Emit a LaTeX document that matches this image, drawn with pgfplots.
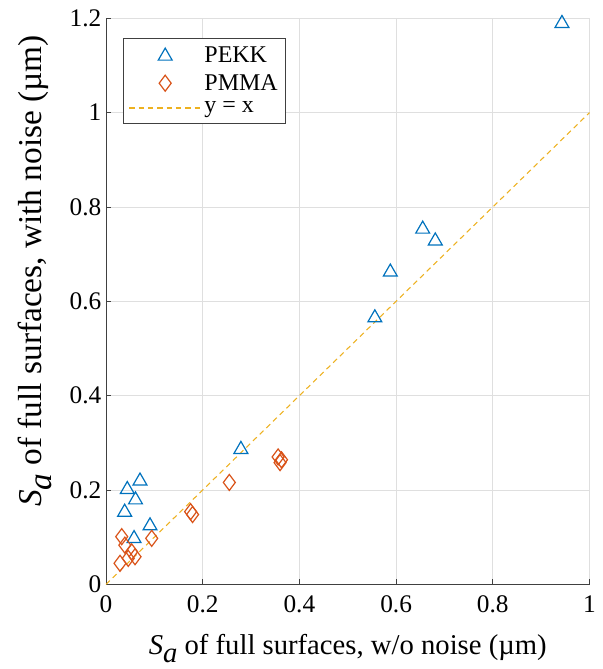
\documentclass[border=0pt]{standalone}
\usepackage{fontspec}
\setmainfont{Liberation Serif}
\usepackage{pgfplots}
\pgfplotsset{compat=1.18}
\definecolor{mblue}{rgb}{0,0.447,0.741}
\definecolor{morange}{rgb}{0.85,0.325,0.098}
\definecolor{myellow}{rgb}{0.929,0.694,0.125}
\begin{document}
\begin{tikzpicture}
\begin{axis}[
  scale only axis, width=362.6pt, height=424.5pt,
  xmin=0, xmax=1, ymin=0, ymax=1.2,
  xtick={0,0.2,0.4,0.6,0.8,1}, ytick={0,0.2,0.4,0.6,0.8,1,1.2},
  axis x line=bottom, axis y line=left,
  axis line style={-, black!75, line width=0.6pt},
  tick align=inside, major tick length=4pt,
  tick style={black!75, line width=0.6pt},
  grid=major, grid style={gray!25, line width=0.6pt},
  ticklabel style={font=\fontsize{19}{21}\selectfont},
  xticklabel style={yshift=-5pt},
  /pgf/number format/assume math mode=true,
  xlabel style={font=\fontsize{21.5}{24}\selectfont, at={(axis description cs:0.5,0)}, anchor=base, yshift=-52.5pt},
  ylabel style={font=\fontsize{25}{28}\selectfont, at={(axis description cs:-0.133,0.5535)}, anchor=base},
  xlabel={\textit{S}\raisebox{-0.65ex}{\textit{a}} of full surfaces, w/o noise (µm)},
  ylabel={\textit{S}\raisebox{-0.65ex}{\textit{a}} of full surfaces, with noise (µm)},
  clip=false,
  legend style={at={(0.035,0.966)}, anchor=north west, draw=black!75, line width=0.6pt,
    font=\fontsize{18}{20}\selectfont, cells={anchor=west}, inner xsep=4pt, inner ysep=5pt,
    row sep=3pt},
  legend image code/.code={\draw[mark repeat=2,mark phase=2,#1] plot coordinates {(0pt,0pt)(27pt,0pt)(54pt,0pt)};},
]
\addplot[only marks, mark=triangle, mark size=6pt, mblue, line width=0.9pt] coordinates {
(0.0386,0.153) (0.044,0.201) (0.061,0.179) (0.0703,0.219) (0.091,0.124)
(0.058,0.097) (0.279,0.286) (0.556,0.565) (0.588,0.662) (0.655,0.753)
(0.681,0.728) (0.943,1.189)
};
\addlegendentry{PEKK}
\addplot[only marks, mark=diamond, mark size=6pt, morange, line width=0.9pt] coordinates {
(0.0325,0.101) (0.0945,0.0975) (0.039,0.083) (0.053,0.069) (0.060,0.0585)
(0.046,0.055) (0.029,0.0445) (0.175,0.154) (0.179,0.148) (0.255,0.216)
(0.356,0.270) (0.363,0.264) (0.360,0.258)
};
\addlegendentry{PMMA}
\addplot[myellow, line width=0.8pt, dash pattern=on 4pt off 3pt] coordinates {(0,0) (1,1)};
\addlegendentry{y = x}
\end{axis}
\pgfresetboundingbox
\path (-79.5pt,-63.5pt) rectangle (372pt,438.2pt);
\end{tikzpicture}
\end{document}
